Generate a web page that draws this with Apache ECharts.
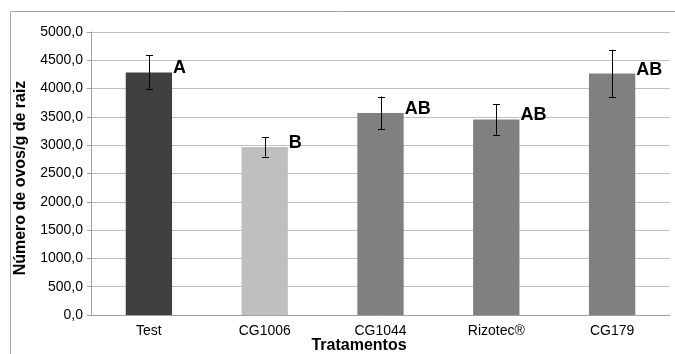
<!DOCTYPE html>
<html>
<head>
<meta charset="utf-8">
<script src="https://cdn.jsdelivr.net/npm/echarts@6/dist/echarts.min.js"></script>
<style>
html,body{margin:0;padding:0;background:#fff;}
#c{width:675px;height:354px;}
</style>
</head>
<body>
<div id="c"></div>
<script>
var categories = ['Test', 'CG1006', 'CG1044', 'Rizotec®', 'CG179'];
var means = [4285, 2970, 3570, 3455, 4265];
var errors = [300, 170, 290, 270, 420];
var letters = ['A', 'B', 'AB', 'AB', 'AB'];
var barColors = ['#404040', '#bfbfbf', '#808080', '#808080', '#808080'];
var yTicks = [0, 500, 1000, 1500, 2000, 2500, 3000, 3500, 4000, 4500, 5000];

var chart = echarts.init(document.getElementById('c'), null, {renderer: 'canvas'});
var font = 'Liberation Sans, Arial, sans-serif';

var barData = means.map(function (v, i) {
  return {value: v, itemStyle: {color: barColors[i]}};
});
var errData = means.map(function (v, i) { return [i, v, errors[i]]; });

chart.setOption({
  animation: false,
  backgroundColor: '#fff',
  grid: {left: 91, right: 5, top: 32, bottom: 39},
  graphic: [
    {type: 'rect', shape: {x: 10.5, y: 11.5, width: 700, height: 400},
     style: {fill: 'none', stroke: '#a6a6a6', lineWidth: 1}, silent: true, z: -1},
    {type: 'text', x: 359, y: 346,
     style: {text: 'Tratamentos', font: 'bold 16px ' + font, fill: '#000', align: 'center', verticalAlign: 'middle'}},
    {type: 'text', x: 21, y: 178, rotation: Math.PI / 2,
     style: {text: 'Número de ovos/g de raiz', font: 'bold 16px ' + font, fill: '#000', align: 'center', verticalAlign: 'middle'}}
  ],
  xAxis: {
    type: 'category',
    data: categories,
    axisLine: {show: true, lineStyle: {color: '#a0a0a0', width: 1}},
    axisTick: {show: false},
    axisLabel: {color: '#000', fontFamily: font, fontSize: 14, margin: 9}
  },
  yAxis: {
    type: 'value',
    min: 0, max: 5000, interval: 500,
    axisLine: {show: true, lineStyle: {color: '#a0a0a0', width: 1}},
    axisTick: {show: true, length: 4, lineStyle: {color: '#a0a0a0'}},
    splitLine: {show: true, lineStyle: {color: '#bfbfbf', width: 1}},
    axisLabel: {
      color: '#000', fontFamily: font, fontSize: 14, margin: 8,
      formatter: function (v) { return yTicks.indexOf(v) >= 0 ? v.toFixed(1).replace('.', ',') : ''; }
    }
  },
  series: [
    {
      type: 'bar',
      data: barData,
      barWidth: '40%',
      silent: true
    },
    {
      type: 'custom',
      data: errData,
      silent: true,
      z: 5,
      renderItem: function (params, api) {
        var i = api.value(0), m = api.value(1), e = api.value(2);
        var top = api.coord([i, m + e]);
        var bot = api.coord([i, m - e]);
        var c = api.coord([i, m]);
        var half = api.size([1, 0])[0] * 0.2;
        var cap = 3.5;
        var x = Math.round(c[0]) + 0.5;
        var st = {stroke: '#000', lineWidth: 1};
        return {
          type: 'group',
          children: [
            {type: 'line', shape: {x1: x, y1: top[1], x2: x, y2: bot[1]}, style: st},
            {type: 'line', shape: {x1: x - cap, y1: Math.round(top[1]) + 0.5, x2: x + cap, y2: Math.round(top[1]) + 0.5}, style: st},
            {type: 'line', shape: {x1: x - cap, y1: Math.round(bot[1]) + 0.5, x2: x + cap, y2: Math.round(bot[1]) + 0.5}, style: st},
            {type: 'text', x: c[0] + half + 1, y: c[1] - 4,
             style: {text: letters[params.dataIndex], font: 'bold 18px ' + font, fill: '#000', align: 'left', verticalAlign: 'middle'}}
          ]
        };
      }
    }
  ]
});
</script>
</body>
</html>
